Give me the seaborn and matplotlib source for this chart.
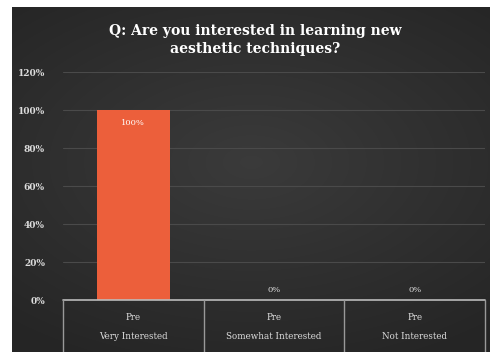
import numpy as np
import pandas as pd
import matplotlib
matplotlib.use("Agg")
import matplotlib.pyplot as plt
import matplotlib.transforms as mtransforms
import seaborn as sns

# Survey responses (percent of respondents), pre-course
groups = ["Pre", "Pre", "Pre"]
responses = ["Very Interested", "Somewhat Interested", "Not Interested"]
percents = [100, 0, 0]
y_ticks = [0, 20, 40, 60, 80, 100, 120]
title = "Q: Are you interested in learning new\naesthetic techniques?"

sns.set_theme(style="dark")
plt.rcParams["font.family"] = ["DejaVu Serif"]

W, H = 490, 352
fig = plt.figure(figsize=(W / 100, H / 100), dpi=100)
fig.patch.set_facecolor("white")

# dark slide backdrop with a soft radial glow
bg = fig.add_axes([12 / W, 0, 1 - 12 / W, 1 - 7 / H])
yy, xx = np.mgrid[-1:1:200j, -1:1:300j]
r = np.sqrt((xx * 0.9) ** 2 + ((yy + 0.1) * 1.1) ** 2)
shade = 0.23 - 0.06 * np.clip(r, 0, 1.4)
bg.imshow(np.dstack([shade, shade, shade]), aspect="auto", extent=[0, 1, 0, 1],
          interpolation="bilinear")
bg.set_axis_off()

labels = [f"{g}\n{r_}" for g, r_ in zip(groups, responses)]
df = pd.DataFrame({"label": labels, "pct": percents})

ax = fig.add_axes([63 / W, 52 / H, 422 / W, 228 / H])
ax.set_facecolor("none")
sns.barplot(data=df, x="label", y="pct", color="#EC5F3B", width=0.52,
            saturation=1, linewidth=0, edgecolor="none", ax=ax, zorder=3)
ax.set_ylim(0, 120)
ax.set_xlim(-0.5, 2.5)
ax.set_yticks(y_ticks)
ax.set_yticklabels([f"{v}%" for v in y_ticks], color="#dddddd",
                   fontsize=6.5, fontweight="bold")
ax.tick_params(axis="y", length=0, pad=13)
ax.tick_params(axis="x", length=0, pad=9)
for t in ax.get_xticklabels():
    t.set_color("#dddddd")
    t.set_fontsize(6.3)
    t.set_linespacing(2.5)
ax.set_xlabel("")
ax.set_ylabel("")
ax.grid(axis="y", color="#4a4a4a", linewidth=0.8, zorder=0)
ax.grid(axis="x", visible=False)
for s in ax.spines.values():
    s.set_visible(False)

# category table under the axis
trans = mtransforms.blended_transform_factory(ax.transData, ax.transAxes)
ax.plot([-0.5, 2.5], [0, 0], transform=trans, color="#bbbbbb", lw=1.2,
        clip_on=False, zorder=4)
for xb in [-0.5, 0.5, 1.5, 2.5]:
    ax.plot([xb, xb], [0, -0.25], transform=trans, color="#999999", lw=1.0,
            clip_on=False, zorder=4)

# value labels
for i, v in enumerate(percents):
    if v > 0:
        ax.text(i, v - 7, f"{v}%", ha="center", va="center", color="white",
                fontsize=6)
    else:
        ax.text(i, v + 5, f"{v}%", ha="center", va="center", color="#dddddd",
                fontsize=6)

fig.text(255 / W, 1 - 40 / H, title, ha="center", va="center", color="white",
         fontsize=10, fontweight="bold", linespacing=1.45)

fig.savefig("out.png", dpi=100)
